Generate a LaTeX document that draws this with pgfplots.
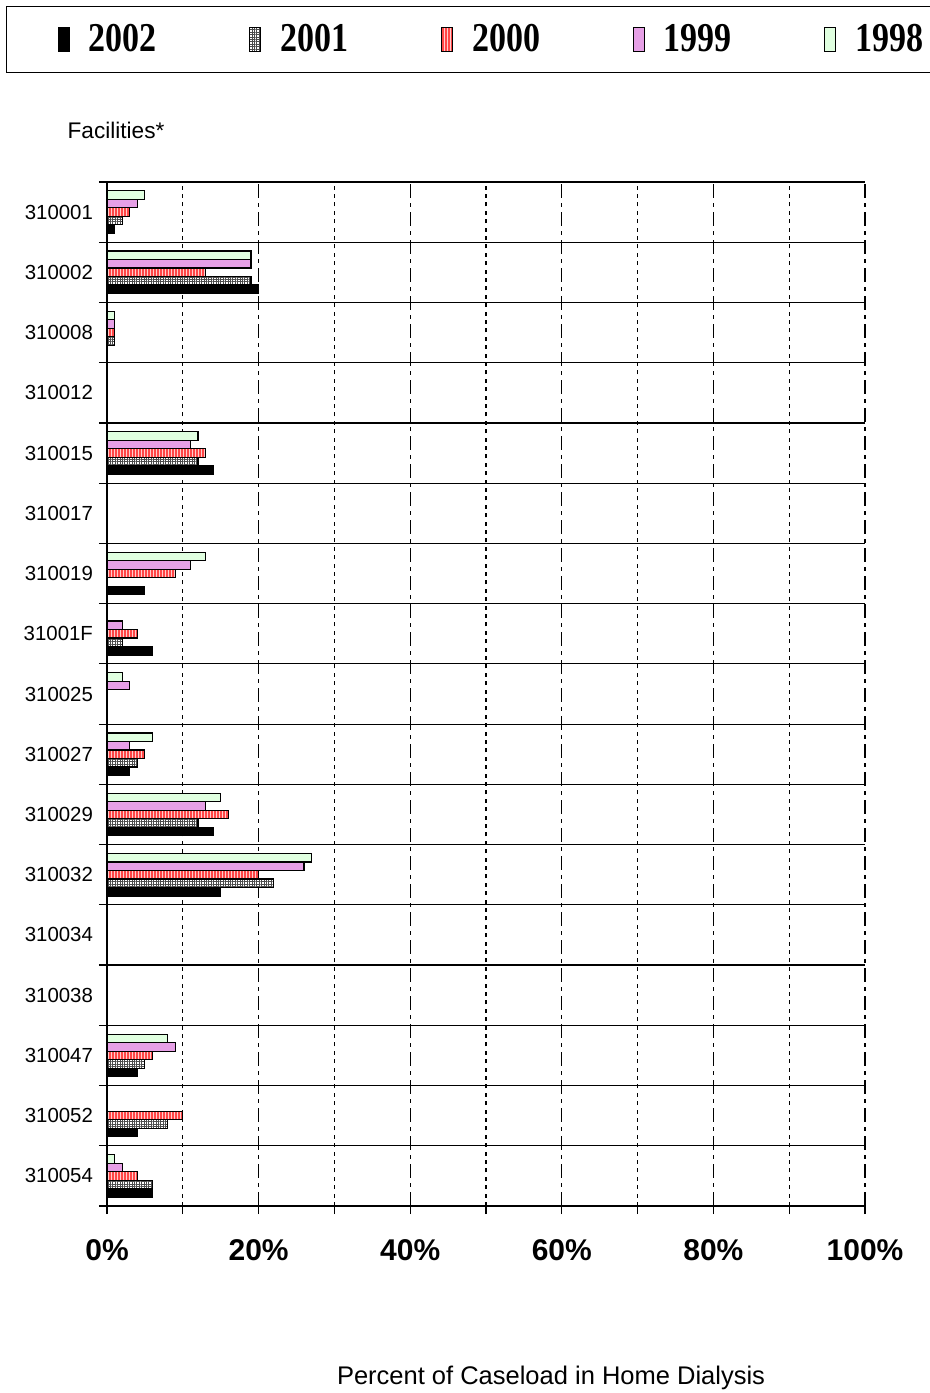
\documentclass[border=0pt]{standalone}
\usepackage{fontspec}
\setmainfont{Liberation Sans}
\newfontfamily\legendfont{Liberation Serif}
\usepackage{graphicx}
\usepackage{pgfplots}
\pgfplotsset{compat=1.18}
\usetikzlibrary{patterns.meta}

\definecolor{c2000}{RGB}{255,70,70}
\definecolor{c1999}{RGB}{230,160,230}
\definecolor{c1998}{RGB}{224,255,224}
\newcommand{\legtxt}[1]{{\legendfont\bfseries\fontsize{20.5}{24}\selectfont\scalebox{0.83}[1]{#1}}}

\begin{document}
\begin{tikzpicture}
\useasboundingbox (0,0) rectangle (465pt,696.5pt);
\begin{axis}[
    at={(53.5pt,93.5pt)}, anchor=south west,
    scale only axis, width=379pt, height=512pt,
    clip=false,
    xbar=0pt, bar width=4.25pt,
    xmin=0, xmax=100, ymin=-0.5, ymax=16.5,
    axis x line*=bottom, axis y line*=left,
    axis line style={line width=0.7pt},
    tick align=outside, major tick length=4pt, minor tick length=4pt,
    tick style={black, line width=0.6pt},
    xtick={0,20,...,100}, minor xtick={10,30,...,90},
    xticklabels={0\%,20\%,40\%,60\%,80\%,100\%},
    xticklabel style={font=\bfseries\fontsize{15}{18}\selectfont, yshift=-9pt},
    ytick={-0.5,0.5,...,16.5},
    yticklabels={310054,310052,310047,310038,310034,310032,310029,310027,310025,31001F,310019,310017,310015,310012,310008,310002,310001,{}},
    yticklabel style={font=\fontsize{10.2}{12}\selectfont, yshift=15.06pt, xshift=0.5pt},
    ymajorgrids, xminorgrids,
    major grid style={solid, black, line width=0.6pt},
    minor grid style={black, line width=0.6pt, dash pattern=on 2pt off 2.2pt},
    extra x ticks={20,40,60,80,100},
    extra x tick labels={},
    extra x tick style={xmajorgrids=true, major tick length=0pt,
        major grid style={black, line width=0.6pt, dash pattern=on 7pt off 2.5pt on 2pt off 2.5pt}},
    every axis plot/.append style={draw=black, line width=0.6pt},
    xlabel={Percent of Caseload in Home Dialysis},
    xlabel style={at={(axis description cs:0.5858,-0.168)}, anchor=center, font=\fontsize{12.75}{15}\selectfont},
    legend style={at={(axis description cs:-0.1332,1.1719)}, anchor=north west,
        draw=black, line width=0.6pt, legend columns=5,
        inner xsep=25.5pt, inner ysep=9pt, nodes={inner sep=0pt},
        cells={anchor=base west},
        /tikz/every odd column/.append style={column sep=9.5pt},
        /tikz/every even column/.append style={column sep=46.2pt}},
    legend image code/.code={\draw[#1] (0pt,0pt) rectangle (5.5pt,12pt);},
]
% 2002
\addplot[fill=black] coordinates {
    (1,16) (20,15) (14,12) (5,10) (6,9) (3,7) (14,6) (15,5) (4,2) (4,1) (6,0)};
\addlegendentry{\legtxt{2002}}
% 2001
\addplot[fill=white,
    postaction={pattern={Lines[angle=0,distance=1.2pt,line width=0.45pt]}, pattern color=black!70},
    postaction={pattern={Lines[angle=90,distance=1.2pt,line width=0.45pt]}, pattern color=black!70}]
    coordinates {
    (2,16) (19,15) (1,14) (12,12) (2,9) (4,7) (12,6) (22,5) (5,2) (8,1) (6,0)};
\addlegendentry{\legtxt{2001}}
% 2000
\addplot[fill=c2000,
    postaction={pattern={Lines[angle=90,distance=1.5pt,line width=0.5pt]}, pattern color=red!20}]
    coordinates {
    (3,16) (13,15) (1,14) (13,12) (9,10) (4,9) (5,7) (16,6) (20,5) (6,2) (10,1) (4,0)};
\addlegendentry{\legtxt{2000}}
% 1999
\addplot[fill=c1999] coordinates {
    (4,16) (19,15) (1,14) (11,12) (11,10) (2,9) (3,8) (3,7) (13,6) (26,5) (9,2) (2,0)};
\addlegendentry{\legtxt{1999}}
% 1998
\addplot[fill=c1998] coordinates {
    (5,16) (19,15) (1,14) (12,12) (13,10) (2,8) (6,7) (15,6) (27,5) (8,2) (1,0)};
\addlegendentry{\legtxt{1998}}
\node[font=\fontsize{11.3}{13}\selectfont] at (axis description cs:0.0119,1.0508) {Facilities*};
\end{axis}
\end{tikzpicture}
\end{document}
